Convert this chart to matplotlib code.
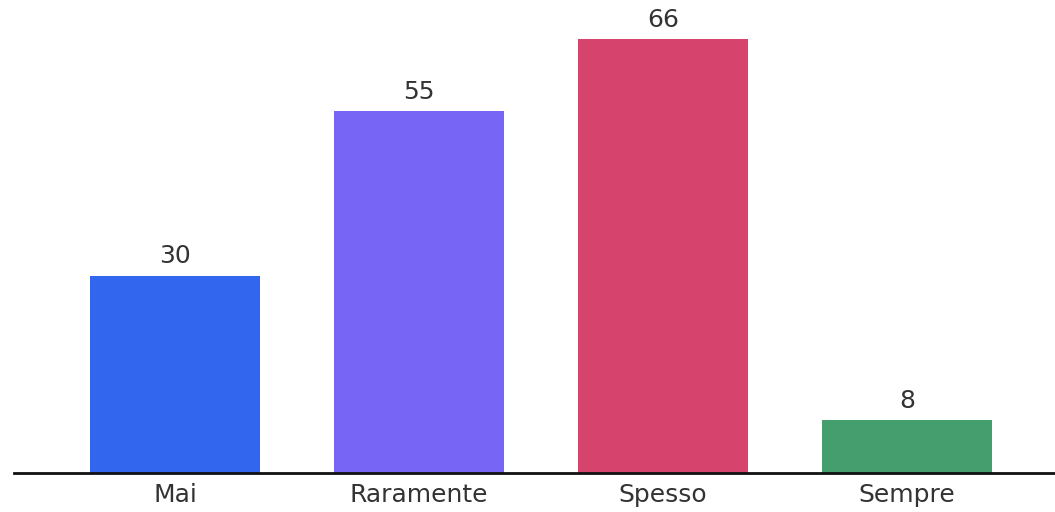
import matplotlib
matplotlib.use("Agg")
from matplotlib import pyplot as plt

categories = ["Mai", "Raramente", "Spesso", "Sempre"]
values = [30, 55, 66, 8]
colors = ["#3366EE", "#7766F5", "#D6446E", "#459E6E"]

fig = plt.figure(figsize=(10.55, 5.12), dpi=100)
ax = fig.add_axes([14 / 1055, 39 / 512, 1 - 14 / 1055, 473 / 512])

x = list(range(len(categories)))
bars = ax.bar(x, values, width=0.70, color=colors, zorder=2)

for b, v in zip(bars, values):
    ax.text(b.get_x() + b.get_width() / 2, v + 1.1, str(v),
            ha="center", va="bottom", fontsize=18, color="#333333")

ax.set_xlim(-0.66, 3.607)
ax.set_ylim(0, 71.9)
ax.set_xticks(x)
ax.set_xticklabels(categories, fontsize=18, color="#333333")
ax.tick_params(axis="x", length=0, pad=7)
ax.set_yticks([])
for s in ["top", "right", "left"]:
    ax.spines[s].set_visible(False)
ax.spines["bottom"].set_linewidth(2)
ax.spines["bottom"].set_color("#111111")
ax.spines["bottom"].set_zorder(3)

fig.savefig("out.png", dpi=100)
